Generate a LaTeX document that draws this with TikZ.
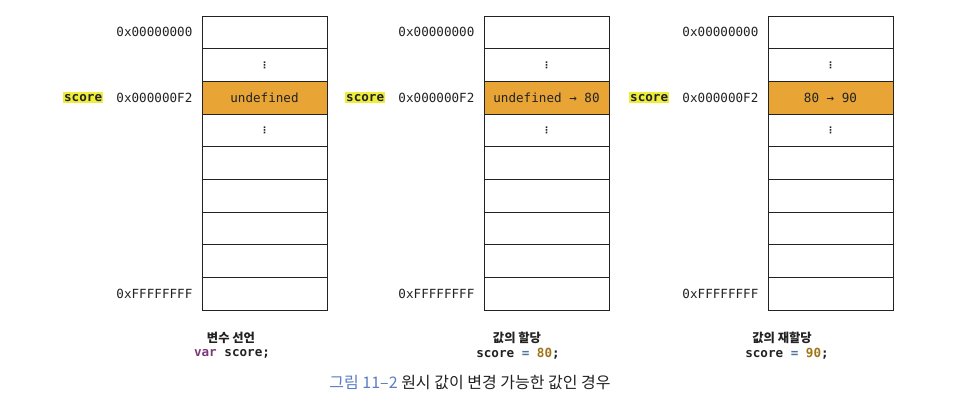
\documentclass[tikz,border=0pt]{standalone}
\usepackage{fontspec}
\setmonofont{DejaVu Sans Mono}
\newfontfamily\kr{Noto Sans CJK KR}
\newfontfamily\dejavu{DejaVu Sans}
\definecolor{hotfill}{HTML}{E8A536}
\definecolor{hilite}{HTML}{EEEE3A}
\definecolor{capblue}{HTML}{5B7DC2}
\definecolor{kwpurple}{HTML}{7A3A78}
\definecolor{numbrown}{HTML}{A07418}
\definecolor{opblue}{HTML}{5070A0}
\definecolor{ink}{HTML}{222222}
\tikzset{
  cell/.style={draw=ink, line width=0.9pt, minimum width=125pt, minimum height=32.67pt, inner sep=0pt},
  row3/.style={fill=hotfill},
  mono/.style={font=\ttfamily\fontsize{12.6}{14}\selectfont, text=ink, inner sep=0pt},
  addr/.style={mono, anchor=east},
  vdots/.style={font=\dejavu\bfseries\fontsize{9}{10}\selectfont, text=ink, inner sep=0pt},
  varlabel/.style={font=\ttfamily\bfseries\fontsize{12.6}{14}\selectfont, fill=hilite, text=ink, inner xsep=1pt, inner ysep=2pt, anchor=east},
  krcap/.style={font=\kr\bfseries\fontsize{12.3}{14}\selectfont, text=ink, inner sep=0pt},
  codecap/.style={font=\ttfamily\bfseries\fontsize{12.6}{14}\selectfont, text=ink, inner sep=0pt},
  figcap/.style={font=\kr\fontsize{16}{18}\selectfont, text=ink, inner sep=0pt}
}
\begin{document}
\begin{tikzpicture}[x=1pt,y=-1pt]
\useasboundingbox (0,0) rectangle (964,420);
\foreach \c/\x in {1/202,2/484,3/768}{
  \foreach \r in {1,...,9}{
    \node[cell, row\r/.try] (c\c r\r) at ({\x+62.5},{16+(\r-0.5)*32.67}) {};
  }
  \node[vdots] (d\c a) at (c\c r2) {⋮};
  \node[vdots] (d\c b) at (c\c r4) {⋮};
  \node[addr] (a\c top) at ([xshift=-9pt]c\c r1.west) {0x00000000};
  \node[addr] (a\c mid) at ([xshift=-9pt]c\c r3.west) {0x000000F2};
  \node[addr] (a\c bot) at ([xshift=-9pt]c\c r9.west) {0xFFFFFFFF};
  \node[varlabel] (v\c) at ([xshift=-13pt]a\c mid.west) {score};
}
\node[mono] (t1) at (c1r3) {undefined};
\node[mono] (t2) at (c2r3) {undefined → 80};
\node[mono] (t3) at (c3r3) {80 → 90};

\node[krcap] (k1) at (231,338) {변수 선언};
\node[codecap] (s1) at (232,354) {\textcolor{kwpurple}{var} score;};
\node[krcap] (k2) at (517,338) {값의 할당};
\node[codecap] (s2) at (518,354) {score \textcolor{opblue}{=} \textcolor{numbrown}{80};};
\node[krcap] (k3) at (782,338) {값의 재할당};
\node[codecap] (s3) at (787,354) {score \textcolor{opblue}{=} \textcolor{numbrown}{90};};

\node[figcap] (fig) at (470,383) {\textcolor{capblue}{그림 11–2} 원시 값이 변경 가능한 값인 경우};
\end{tikzpicture}
\end{document}
